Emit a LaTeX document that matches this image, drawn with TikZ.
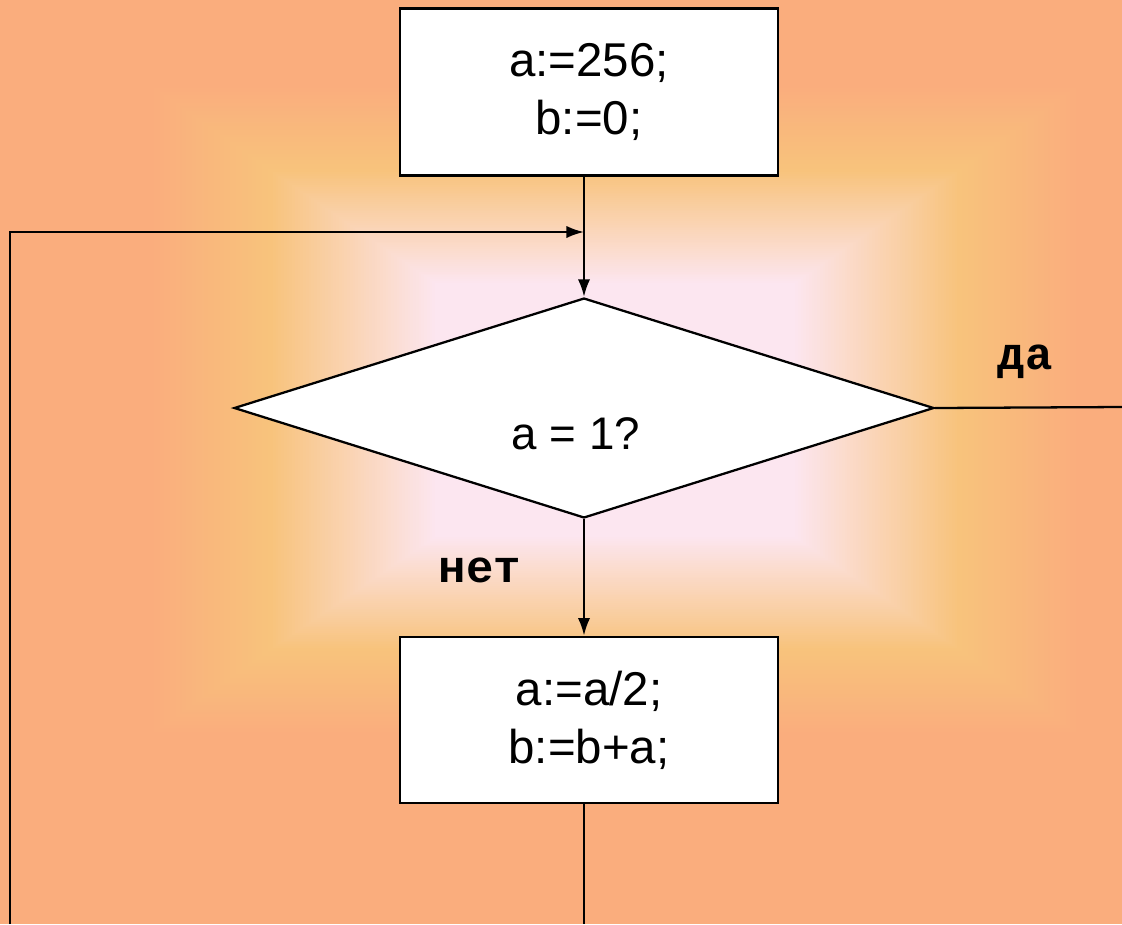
\documentclass[tikz,border=0pt]{standalone}
\usepackage{fontspec}
\setmainfont{Liberation Sans}
\newfontfamily\labelfont{Liberation Mono}
\usetikzlibrary{shapes.geometric,arrows.meta,calc}

\definecolor{bgSalmon}{HTML}{FAAD7D}
\definecolor{bgOrange}{HTML}{F8C37C}
\definecolor{bgPink}{HTML}{FCE6F0}

\tikzset{
  block/.style={draw, line width=1.6pt, fill=white, minimum width=7.56cm,
    minimum height=3.34cm, align=center, font=\fontsize{27}{33}\selectfont},
  decision/.style={diamond, draw, line width=1.3pt, fill=white, inner sep=0pt,
    minimum width=14cm, minimum height=4.4cm},
  flow/.style={line width=1.3pt},
  arrowline/.style={flow, -{Latex[length=10pt,width=7pt]}},
  answer/.style={font=\labelfont\bfseries\fontsize{26}{28}\selectfont},
}

\begin{document}
\begin{tikzpicture}[x=0.02cm, y=-0.02cm]
    \useasboundingbox (0,0) rectangle (1122,924);
    % background glow
    \fill[bgSalmon] (0,0) rectangle (1122,924);
    \foreach \i in {0,...,60}{
        \pgfmathsetmacro{\dx}{465-120*\i/60}
        \pgfmathsetmacro{\dy}{325-85*\i/60}
        \pgfmathsetmacro{\p}{100*\i/60}
        \fill[bgOrange!\p!bgSalmon] (615-\dx,410-\dy) rectangle (615+\dx,410+\dy);
    }
    \foreach \i in {0,...,60}{
        \pgfmathsetmacro{\dx}{345-165*\i/60}
        \pgfmathsetmacro{\dy}{240-113*\i/60}
        \pgfmathsetmacro{\p}{100*\i/60}
        \fill[bgPink!\p!bgOrange] (615-\dx,410-\dy) rectangle (615+\dx,410+\dy);
    }

    \node[block] (init) at (589,92) {a:=256;\\b:=0;};
    \node[decision] (cond) at (584,408) {};
    \node[font=\fontsize{26}{30}\selectfont] (condText) at (576,434) {a = 1?};
    \node[block, minimum height=3.32cm] (step) at (589,720) {a:=a/2;\\b:=b+a;};
    \node[answer] (yes) at (1025,362) {да};
    \node[answer] (no) at (480,570) {нет};

    \coordinate (loopTop) at (10,232);
    \coordinate (loopBottom) at (10,924);
    \coordinate (join) at (cond.north |- loopTop);
    \coordinate (exit) at (cond.south |- loopBottom);
    \coordinate (yesEnd) at (1122,407);

    \draw[arrowline] (init.south -| cond.north) -- (cond.north);
    \draw[arrowline] (loopBottom) -- (loopTop) -- (join);
    \draw[arrowline] (cond.south) -- (step.north -| cond.south);
    \draw[flow] (step.south -| cond.south) -- (exit);
    \draw[flow] (cond.east) -- (yesEnd);
\end{tikzpicture}
\end{document}
